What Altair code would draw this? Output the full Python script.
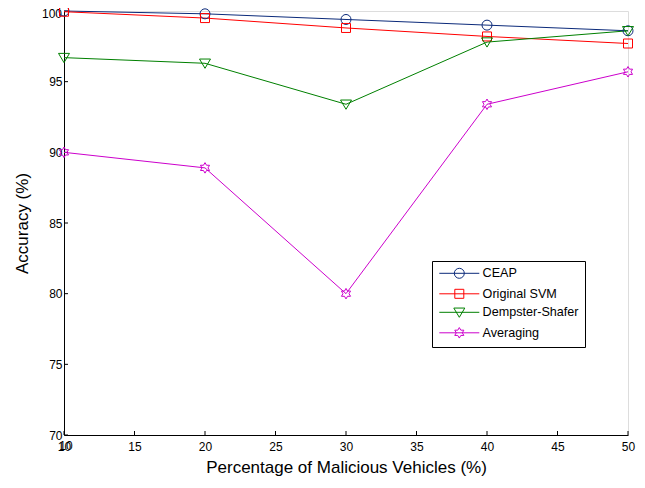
import altair as alt
import pandas as pd
import math

# ---- data ----
x_vals = [10, 20, 30, 40, 50]
ceap = [100.0, 99.8, 99.4, 99.0, 98.6]
svm = [99.95, 99.5, 98.8, 98.2, 97.7]
dempster = [96.7, 96.3, 93.4, 97.8, 98.6]
averaging = [90.0, 88.9, 80.0, 93.4, 95.7]

series_names = ["CEAP", "Original SVM", "Dempster-Shafer", "Averaging"]
series_colors = ["#0B2A7A", "#FF0000", "#008000", "#CC00CC"]
x_ticks = [10, 15, 20, 25, 30, 35, 40, 45, 50]
y_ticks = [70, 75, 80, 85, 90, 95, 100]

rows = []
for name, vals in zip(series_names, [ceap, svm, dempster, averaging]):
    for xv, yv in zip(x_vals, vals):
        rows.append({"series": name, "x": xv, "y": yv})
df = pd.DataFrame(rows)

# ---- marker shapes (unit paths) ----
def circle(cx, r):
    return f"M{cx-r},0A{r},{r} 0 1,0 {cx+r},0A{r},{r} 0 1,0 {cx-r},0Z"

def square(cx, h):
    return f"M{cx-h},{-h}L{cx+h},{-h}L{cx+h},{h}L{cx-h},{h}Z"

def tri_down(cx, w):
    return f"M{cx-w},{-0.85*w/1.1}L{cx+w},{-0.85*w/1.1}L{cx},{1.0*w/1.1}Z"

def hexagram(cx, R):
    pts = []
    for i in range(12):
        ang = math.radians(-90 + 30 * i)
        rr = R if i % 2 == 0 else R / math.sqrt(3)
        pts.append((cx + rr * math.cos(ang), rr * math.sin(ang)))
    return "M" + "L".join(f"{px:.3f},{py:.3f}" for px, py in pts) + "Z"

marker_paths = [circle(0, 1.0), square(0, 0.9), tri_down(0, 1.1), hexagram(0, 1.05)]
line_seg = "M-1,0H7"
legend_paths = [line_seg + circle(3, 1.0), line_seg + square(3, 0.9),
                line_seg + tri_down(3, 1.1), line_seg + hexagram(3, 1.05)]

W, H = 564, 424
xs = alt.Scale(domain=[10, 50], nice=False, zero=False)
ys = alt.Scale(domain=[70, 100], nice=False, zero=False)

base = alt.Chart(df)

lines = base.mark_line(strokeWidth=1, clip=False).encode(
    x=alt.X("x:Q", scale=xs,
            axis=alt.Axis(values=x_ticks, title="Percentage of Malicious Vehicles (%)",
                          ticks=False, grid=False, labelPadding=6, titlePadding=7,
                          labelFlush=False,
                          labelFontSize=12, titleFontSize=17, domainColor="black",
                          labelColor="black", titleColor="black", titleFontWeight="normal")),
    y=alt.Y("y:Q", scale=ys,
            axis=alt.Axis(values=y_ticks, title="Accuracy (%)", ticks=False, grid=False,
                          labelExpr="datum.value == 100 ? '' : datum.label",
                          labelPadding=2, titlePadding=17, labelFontSize=12, titleFontSize=17,
                          labelFlush=False,
                          domainColor="black", labelColor="black", titleColor="black",
                          titleFontWeight="normal")),
    color=alt.Color("series:N", scale=alt.Scale(domain=series_names, range=series_colors),
                    legend=None),
    detail="series:N",
)

points = base.mark_point(filled=False, size=100, strokeWidth=1, opacity=1, clip=False).encode(
    x=alt.X("x:Q", scale=xs),
    y=alt.Y("y:Q", scale=ys),
    color=alt.Color("series:N", scale=alt.Scale(domain=series_names, range=series_colors),
                    legend=None),
    shape=alt.Shape("series:N", scale=alt.Scale(domain=series_names, range=marker_paths),
                    legend=None),
)

leg = alt.Legend(orient="none", legendX=368, legendY=250, title=None,
                 strokeColor="black", fillColor="white", padding=6,
                 symbolSize=100, symbolStrokeWidth=1,
                 labelFontSize=12.6, labelOffset=32, rowPadding=5.5,
                 labelColor="black")

legend_layer = base.transform_filter("datum.x < 0").mark_point(
    filled=False, size=100, strokeWidth=1, opacity=1).encode(
    x=alt.X("x:Q", scale=xs),
    y=alt.Y("y:Q", scale=ys),
    color=alt.Color("series:N", scale=alt.Scale(domain=series_names, range=series_colors),
                    legend=leg),
    shape=alt.Shape("series:N", scale=alt.Scale(domain=series_names, range=legend_paths),
                    legend=leg),
)

xtick_df = pd.DataFrame({"t": x_ticks})
ytick_df = pd.DataFrame({"t": y_ticks})
xtick_rules = alt.Chart(xtick_df).mark_rule(color="black", strokeWidth=1).encode(
    x=alt.X("t:Q", scale=xs), y=alt.value(H), y2=alt.value(H - 4))
ytick_rules = alt.Chart(ytick_df).mark_rule(color="black", strokeWidth=1).encode(
    y=alt.Y("t:Q", scale=ys), x=alt.value(0), x2=alt.value(4))

top_label = alt.Chart(pd.DataFrame({"t": [100], "lab": ["100"]})).mark_text(
    align="right", baseline="middle", dx=-2, dy=3, fontSize=12, color="black").encode(
    y=alt.Y("t:Q", scale=ys), x=alt.value(0), text="lab:N")

first_x = alt.Chart(pd.DataFrame({"t": [10], "lab": ["10"]})).mark_text(
    align="center", baseline="top", dx=2, dy=6, fontSize=12, color="black").encode(
    x=alt.X("t:Q", scale=xs), y=alt.value(H), text="lab:N")

chart = alt.layer(xtick_rules, ytick_rules, top_label, first_x, lines, points,
                  legend_layer).resolve_scale(
    color="independent", shape="independent"
).properties(
    width=W, height=H,
    autosize=alt.AutoSizeParams(type="none"),
    padding={"left": 56, "top": 3, "right": 9, "bottom": 45},
    background="white",
).configure_view(stroke="black", strokeWidth=1).configure(
    font="Liberation Sans"
)

chart.save("out.html", embed_options={"renderer": "svg", "actions": False})
